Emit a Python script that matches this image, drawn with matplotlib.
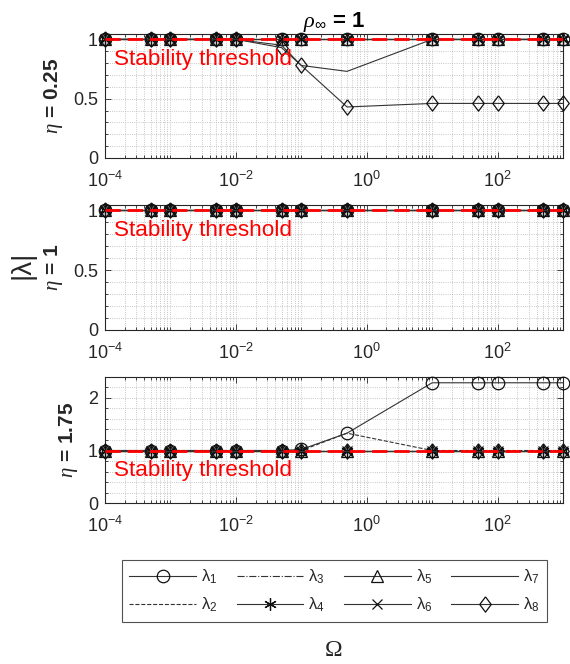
import numpy as np
import matplotlib
matplotlib.use("Agg")
import matplotlib.pyplot as plt
from matplotlib.ticker import FixedLocator, NullFormatter

plt.rcParams['font.family'] = ['Liberation Sans', 'DejaVu Sans']
plt.rcParams['mathtext.fontset'] = 'custom'
plt.rcParams['mathtext.rm'] = 'Liberation Sans'
plt.rcParams['mathtext.it'] = 'Liberation Serif:italic'
plt.rcParams['mathtext.bf'] = 'Liberation Sans:bold'
plt.rcParams['mathtext.fallback'] = 'stix'

# frequency ratio samples
omega = [1e-4, 5e-4, 1e-3, 5e-3, 1e-2, 5e-2, 1e-1, 5e-1, 1e1, 5e1, 1e2, 5e2, 1e3]

# spectral radius of each eigenvalue, one set per eta
unit = [1.0, 1.0, 1.0, 1.0, 1.0, 1.0, 1.0, 1.0, 1.0, 1.0, 1.0, 1.0, 1.0]

eta025_l7 = [1.0, 1.0, 1.0, 1.0, 1.0, 0.95, 0.78, 0.73, 1.0, 1.0, 1.0, 1.0, 1.0]
eta025_l8 = [1.0, 1.0, 1.0, 1.0, 1.0, 0.93, 0.78, 0.43, 0.46, 0.46, 0.46, 0.46, 0.46]

eta175_l1 = [1.0, 1.0, 1.0, 1.0, 1.0, 1.0, 1.02, 1.33, 2.29, 2.29, 2.29, 2.29, 2.29]
eta175_l2 = [1.0, 1.0, 1.0, 1.0, 1.0, 1.0, 1.0, 1.33, 1.0, 1.0, 1.0, 1.0, 1.0]

panels = [
    ("0.25", [unit, unit, unit, unit, unit, unit, eta025_l7, eta025_l8]),
    ("1", [unit] * 8),
    ("1.75", [eta175_l1, eta175_l2, unit, unit, unit, unit, unit, unit]),
]
ylims = [1.045, 1.045, 2.4]
ymajor = [[0, 0.5, 1], [0, 0.5, 1], [0, 1, 2]]
yminor_step = [0.1, 0.1, 0.2]
threshold = 1.0

labels = [r'λ$_%d$' % i for i in range(1, 9)]
diamond = [(0, 1), (0.75, 0), (0, -1), (-0.75, 0), (0, 1)]
styles = [
    dict(ls='-', marker='o', ms=9),
    dict(ls='--', marker=None),
    dict(ls='-.', marker=None),
    dict(ls='-', marker=(6, 2, 0), ms=9),
    dict(ls='-', marker='^', ms=9),
    dict(ls='-', marker='x', ms=7),
    dict(ls='-', marker=None),
    dict(ls='-', marker=diamond, ms=11),
]

line_col = '#333333'
axis_col = '#262626'

fig = plt.figure(figsize=(5.70, 6.64), dpi=100)
W, H = 570.0, 664.0
ax_left, ax_right = 105, 563
tops = [34, 205, 377]
bottoms = [158, 330, 503]

xmajor = [1e-4, 1e-2, 1e0, 1e2]
xminor = [k * 10.0 ** n for n in range(-4, 3) for k in range(1, 10)
          if k * 10.0 ** n not in xmajor] + [1e3]

axes = []
for i, (eta, series) in enumerate(panels):
    ax = fig.add_axes([ax_left / W, 1 - bottoms[i] / H,
                       (ax_right - ax_left) / W, (bottoms[i] - tops[i]) / H])
    handles = []
    for vals, st, lab in zip(series, styles, labels):
        h, = ax.plot(omega, vals, color=line_col, lw=0.8, ls=st['ls'],
                     marker=st['marker'], ms=st.get('ms', 8),
                     mfc='none', mec='#111111', mew=0.9, label=lab,
                     clip_on=False, zorder=3)
        handles.append(h)
    ax.axhline(threshold, color='#ff0000', lw=2.0, ls=(0, (5.5, 2.5)), zorder=4)
    ax.annotate('Stability threshold', xy=(1.37e-4, threshold),
                xytext=(0, -14.5), textcoords='offset points',
                color='#ff0000', fontsize=16.2, va='center', ha='left')

    ax.set_xscale('log')
    ax.set_xlim(1e-4, 1e3)
    ax.set_ylim(0, ylims[i])
    ax.xaxis.set_major_locator(FixedLocator(xmajor))
    ax.xaxis.set_minor_locator(FixedLocator(xminor))
    ax.xaxis.set_minor_formatter(NullFormatter())
    ax.set_yticks(ymajor[i])
    ax.set_yticklabels([('%g' % v) for v in ymajor[i]])
    ax.yaxis.set_minor_locator(FixedLocator(
        np.arange(0, ylims[i], yminor_step[i])))

    ax.grid(True, which='both', ls=':', lw=0.6, color='#b5b5b5')
    ax.set_axisbelow(True)
    ax.tick_params(which='both', direction='in', top=True, right=True,
                   colors=axis_col, labelsize=13, width=0.6)
    ax.tick_params(which='major', length=4)
    ax.tick_params(axis='y', which='major', pad=5)
    ax.tick_params(axis='x', which='major', pad=9)
    ax.tick_params(which='minor', length=2)
    for sp in ax.spines.values():
        sp.set_color(axis_col)
        sp.set_linewidth(0.8)
    ax.set_ylabel(r'$\eta$ = ' + eta, fontsize=15, fontweight='bold',
                  color=axis_col, labelpad=6)
    axes.append((ax, handles))

axes[0][0].set_title(r'$\rho_{\infty}$ = 1', fontsize=16, fontweight='bold',
                     color='black', pad=1)

fig.text(22 / W, 1 - 265 / H, '|λ|', fontsize=20, rotation=90,
         ha='center', va='center', color=axis_col)

leg = fig.legend(axes[0][1], labels, ncol=4, loc='center',
                 bbox_to_anchor=(334.5 / W, 1 - 591 / H), fontsize=12,
                 frameon=True, fancybox=False, handlelength=4.0,
                 handletextpad=0.3, columnspacing=1.15, labelspacing=0.6,
                 borderpad=0.45, borderaxespad=0)
leg.get_frame().set_edgecolor(axis_col)
leg.get_frame().set_linewidth(0.8)
for t in leg.get_texts():
    t.set_color(axis_col)

fig.text(334 / W, 1 - 651 / H, 'Ω', fontsize=17, ha='center', va='center',
         family='Liberation Serif', color=axis_col)

fig.savefig('out.png', dpi=100)
